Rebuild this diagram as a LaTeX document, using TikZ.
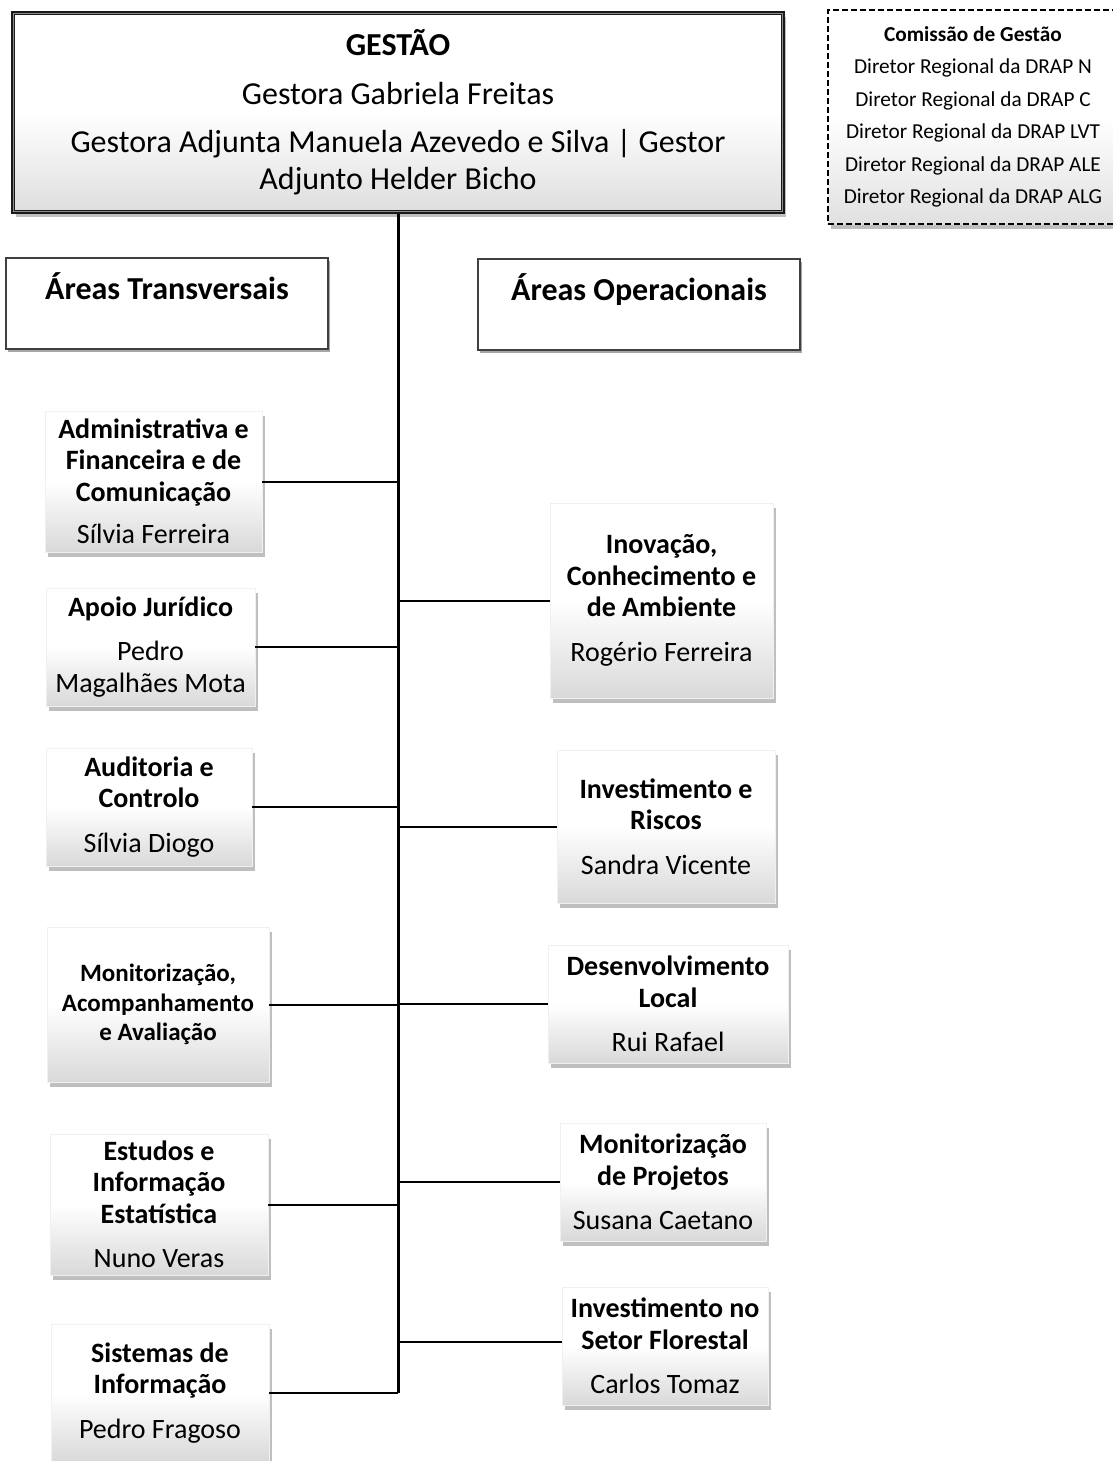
\documentclass[tikz,border=0pt]{standalone}
\usepackage{fontspec}
\setmainfont{Carlito}
\usetikzlibrary{shadows}
\newcommand{\bxfont}{\fontsize{28}{31.5}\selectfont}
\newcommand{\smfont}{\fontsize{25}{29.5}\selectfont}
\newcommand{\topfont}{\fontsize{32}{37}\selectfont}
\newcommand{\comfont}{\fontsize{21.3}{32.5}\selectfont}
\newcommand{\arfont}{\fontsize{32}{38}\selectfont\bfseries}
\begin{document}
\begin{tikzpicture}[x=1pt,y=-1pt,
  shad/.style={drop shadow={shadow xshift=2.5pt,shadow yshift=-4.5pt,opacity=.25,fill=black}},
  unitbox/.style={shape=rectangle,inner sep=0pt,align=center,
     top color=white,bottom color=black!15,middle color=white,
     draw=black!6,line width=0.5pt,shad,font=\bxfont},
  topbox/.style={shape=rectangle,inner sep=0pt,align=center,
     top color=white,bottom color=black!13,middle color=white,
     draw=black!90,line width=3.2pt,shad,font=\topfont},
  combox/.style={shape=rectangle,inner sep=0pt,align=center,
     top color=white,bottom color=black!12,middle color=white,
     draw=black,dash pattern=on 6pt off 3pt,line width=1.6pt,shad,font=\comfont},
  areabox/.style={shape=rectangle,inner sep=0pt,align=center,fill=white,
     draw=black!75,line width=1.6pt,
     drop shadow={shadow xshift=1.5pt,shadow yshift=-2.5pt,opacity=.35,fill=black},
     font=\arfont,text height=41pt,text depth=50pt,anchor=base},
  innerline/.style={draw=black!45,line width=1pt},
  trunk/.style={line width=3pt,black},
  branch/.style={line width=2pt,black}]
\useasboundingbox (0,0) rectangle (1113,1461);

% top management box
\node[topbox,minimum width=770,minimum height=199] (gest) at (398,112.5)
  {\textbf{GESTÃO}\\[12pt]Gestora Gabriela Freitas\\[11pt]Gestora Adjunta Manuela Azevedo e Silva | Gestor\\Adjunto Helder Bicho};
\draw[innerline] ([xshift=2.5pt,yshift=2.5pt]gest.south west) rectangle ([xshift=-2.5pt,yshift=-2.5pt]gest.north east);

% commission box
\node[combox,minimum width=290,minimum height=214] (com) at (973,117)
  {\textbf{Comissão de Gestão}\\Diretor Regional da DRAP N\\Diretor Regional da DRAP C\\Diretor Regional da DRAP LVT\\Diretor Regional da DRAP ALE\\Diretor Regional da DRAP ALG};

% area headers
\node[areabox,minimum width=322] (atr) at (167,299) {Áreas Transversais};
\node[areabox,minimum width=322] (aop) at (639,300) {Áreas Operacionais};

% left units
\node[unitbox,minimum width=217,minimum height=141] (l1) at (153.5,481.5)
  {\textbf{Administrativa e}\\\textbf{Financeira e de}\\\textbf{Comunicação}\\[11pt]Sílvia Ferreira};
\node[unitbox,minimum width=209,minimum height=118] (l2) at (150.5,647)
  {\textbf{Apoio Jurídico}\\[13pt]Pedro\\Magalhães Mota};
\node[unitbox,minimum width=206,minimum height=118] (l3) at (149,807)
  {\textbf{Auditoria e}\\\textbf{Controlo}\\[13pt]Sílvia Diogo};
\node[unitbox,minimum width=222,minimum height=155,font=\smfont] (l4) at (158,1004.5)
  {\textbf{Monitorização,}\\\textbf{Acompanhamento}\\\textbf{e Avaliação}};
\node[unitbox,minimum width=218,minimum height=141] (l5) at (159,1204.5)
  {\textbf{Estudos e}\\\textbf{Informação}\\\textbf{Estatística}\\[13pt]Nuno Veras};
\node[unitbox,minimum width=218,minimum height=138] (l6) at (160,1393)
  {\textbf{Sistemas de}\\\textbf{Informação}\\[13pt]Pedro Fragoso};

% right units
\node[unitbox,minimum width=223,minimum height=195] (r1) at (661.5,600.5)
  {\textbf{Inovação,}\\\textbf{Conhecimento e}\\\textbf{de Ambiente}\\[13pt]Rogério Ferreira};
\node[unitbox,minimum width=218,minimum height=153] (r2) at (666,826.5)
  {\textbf{Investimento e}\\\textbf{Riscos}\\[13pt]Sandra Vicente};
\node[unitbox,minimum width=240,minimum height=118] (r3) at (668,1004)
  {\textbf{Desenvolvimento}\\\textbf{Local}\\[13pt]Rui Rafael};
\node[unitbox,minimum width=206,minimum height=118] (r4) at (663,1182)
  {\textbf{Monitorização}\\\textbf{de Projetos}\\[13pt]Susana Caetano};
\node[unitbox,minimum width=206,minimum height=118] (r5) at (665,1346)
  {\textbf{Investimento no}\\\textbf{Setor Florestal}\\[13pt]Carlos Tomaz};

% connectors
\coordinate (vend) at (398,1393);
\draw[trunk] (gest.south) -- (vend);
\foreach \n in {l1,l2,l3,l4,l5,l6}
  \draw[branch] (\n.east) -- (\n.east -| gest.south);
\foreach \n in {r1,r2,r3,r4}
  \draw[branch] (\n.west) -- (\n.west -| gest.south);
\draw[branch] ([yshift=4pt]r5.west) -- ([yshift=4pt]r5.west -| gest.south);
\end{tikzpicture}
\end{document}
